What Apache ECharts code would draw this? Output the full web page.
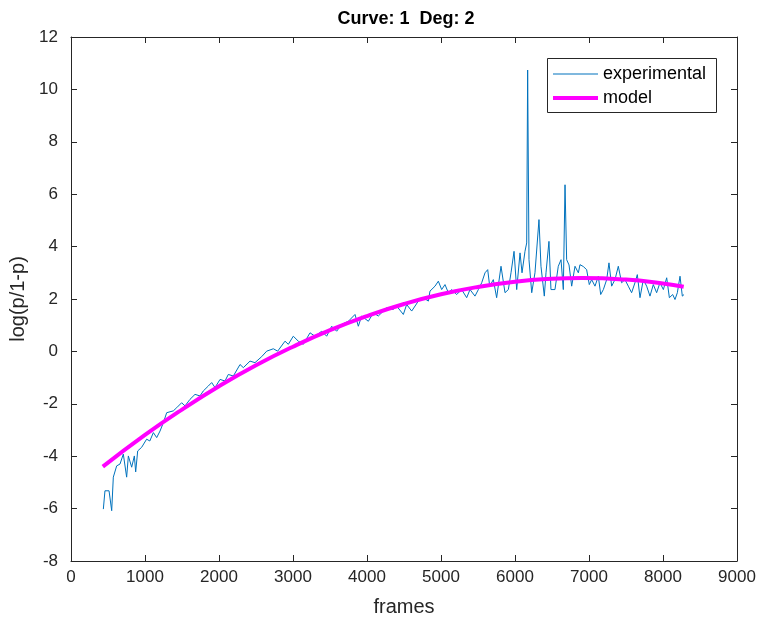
<!DOCTYPE html>
<html>
<head>
<meta charset="utf-8">
<script src="https://cdn.jsdelivr.net/npm/echarts@6/dist/echarts.min.js"></script>
<style>html,body{margin:0;padding:0;background:#fff}#c{width:759px;height:622px}</style>
</head>
<body>
<div id="c"></div>
<script>
const expFrames = [437,459,514,550,572,617,662,707,752,775,820,856,874,901,955,1022,1065,1113,1158,1203,1248,1293,1383,1428,1495,1541,1608,1676,1743,1788,1856,1901,1946,2014,2081,2126,2194,2284,2329,2419,2486,2577,
2645,2734,2793,2892,2937,3004,3072,3139,3230,3297,3388,3455,3523,3590,3658,3748,3838,3883,3928,4018,4086,4153,4221,4266,4356,4401,4491,4536,4604,4694,4761,4829,
4851,4919,4964,5009,5054,5099,5144,5212,5279,5347,5392,5459,5505,5550,5595,5631,5658,5707,5752,5811,5865,5910,5946,5987,6023,6068,6095,6135,6158,6171,6189,6226,6270,6324,6351,6396,6419,6459,6486,6540,6585,6622,6653,6676,6698,6730,6766,6811,6856,
6878,6923,6968,7004,7036,7081,7126,7158,7194,7239,7270,7306,7351,7396,7441,7486,7531,7576,7621,7653,7689,7734,7779,7824,7869,7914,7959,8005,8050,8086,8131,8162,8194,8230,8261,8284];
const expValues = [-6.02,-5.32,-5.32,-6.08,-4.80,-4.37,-4.30,-3.92,-4.80,-3.99,-4.42,-3.99,-4.60,-3.80,-3.66,-3.35,-3.42,-3.10,-3.29,-3.04,-2.72,-2.34,-2.27,-2.15,-1.96,-2.08,-1.83,-1.64,-1.70,-1.51,-1.32,-1.19,-1.38,-1.07,-1.13,-0.88,-0.94,-0.50,-0.62,-0.37,-0.43,-0.20,
0.01,0.10,0.01,0.39,0.27,0.58,0.39,0.27,0.71,0.58,0.77,0.58,0.96,0.77,1.03,1.15,1.41,0.96,1.35,1.15,1.47,1.35,1.54,1.66,1.60,1.73,1.41,1.79,1.54,1.92,2.05,1.92,
2.30,2.49,2.68,2.36,2.55,2.24,2.36,2.17,2.36,2.05,2.36,2.11,2.36,2.62,3.00,3.12,2.49,2.74,2.05,3.25,2.24,2.36,3.00,3.82,2.36,3.76,3.00,3.82,4.14,10.74,3.50,2.24,3.00,5.03,3.25,2.11,3.00,4.20,2.36,2.36,3.25,3.50,2.36,6.36,3.50,3.30,2.49,3.25,3.00,
3.31,3.24,3.12,2.55,2.74,2.49,2.87,2.17,2.36,2.74,3.38,2.49,2.74,3.25,2.62,2.74,2.49,2.24,2.62,2.93,2.05,2.74,2.49,2.11,2.55,2.24,2.62,2.36,2.81,2.05,2.17,1.98,2.24,2.87,2.11,2.17];
const modelFrames = [430,1000,1500,2000,2500,3000,3500,4000,4500,5000,5500,6000,6500,6900,7500,8000,8280];
const modelValues = [-4.40,-3.19,-2.22,-1.33,-0.53,0.18,0.81,1.35,1.81,2.18,2.46,2.66,2.77,2.80,2.74,2.59,2.47];
const xTicks = [0,1000,2000,3000,4000,5000,6000,7000,8000,9000];
const yTicks = [-8,-6,-4,-2,0,2,4,6,8,10,12];

const FONT = '"Liberation Sans", Arial, sans-serif';
const AX = '#262626';
const EXP_COLOR = '#0072BD';
const MODEL_COLOR = '#FF00FF';
const expData = expFrames.map((f,i)=>[f, expValues[i]]);
const modelData = modelFrames.map((f,i)=>[f, modelValues[i]]);

function xAxisCfg(pos, labels){
  return {
    type:'value', position:pos, min:xTicks[0], max:xTicks[xTicks.length-1], interval:xTicks[1]-xTicks[0],
    axisLine:{show:true, onZero:false, lineStyle:{color:AX, width:1}},
    axisTick:{show:true, inside:true, length:6, lineStyle:{color:AX}},
    axisLabel:{show:labels, color:AX, fontSize:17, fontFamily:FONT, margin:8, formatter:v=>String(v)},
    splitLine:{show:false},
    name: labels ? 'frames' : '', nameLocation:'middle', nameGap:36,
    nameTextStyle:{color:AX, fontSize:20, fontFamily:FONT}
  };
}
function yAxisCfg(pos, labels){
  return {
    type:'value', position:pos, min:yTicks[0], max:yTicks[yTicks.length-1], interval:yTicks[1]-yTicks[0],
    axisLine:{show:true, onZero:false, lineStyle:{color:AX, width:1}},
    axisTick:{show:true, inside:true, length:6, lineStyle:{color:AX}},
    axisLabel:{show:labels, color:AX, fontSize:17, fontFamily:FONT, margin:13, formatter:v=>String(v)},
    splitLine:{show:false},
    name: labels ? 'log(p/1-p)' : '', nameLocation:'middle', nameGap:40,
    nameTextStyle:{color:AX, fontSize:20, fontFamily:FONT}
  };
}
function legendCfg(name, top, h){
  return {
    show:true, orient:'vertical', left:553, top:top, itemWidth:45, itemHeight:h, padding:0, z:10,
    icon:'rect', textStyle:{fontSize:18, color:'#000', fontFamily:FONT},
    data:[name]
  };
}

const chart = echarts.init(document.getElementById('c'), null, {renderer:'canvas'});
chart.setOption({
  animation:false,
  backgroundColor:'#fff',
  title:{text:'Curve: 1  Deg: 2', left:401, top:5, textAlign:'center',
    textStyle:{fontSize:18, fontWeight:'bold', color:'#000', fontFamily:FONT}},
  grid:{left:71, right:22, top:37, bottom:60},
  graphic:[{type:'rect', left:547, top:58, z:4,
    shape:{width:169, height:54}, style:{fill:'#fff', stroke:AX, lineWidth:1}}],
  legend:[legendCfg('experimental', 65, 1.2), legendCfg('model', 89, 4)],
  xAxis:[xAxisCfg('bottom', true), xAxisCfg('top', false)],
  yAxis:[yAxisCfg('left', true), yAxisCfg('right', false)],
  series:[
    {name:'experimental', type:'line', data:expData, symbol:'none', showSymbol:false,
      lineStyle:{color:EXP_COLOR, width:1}, itemStyle:{color:EXP_COLOR}, z:2},
    {name:'model', type:'line', data:modelData, symbol:'none', showSymbol:false, smooth:true,
      lineStyle:{color:MODEL_COLOR, width:4}, itemStyle:{color:MODEL_COLOR}, z:3}
  ]
});
</script>
</body>
</html>
